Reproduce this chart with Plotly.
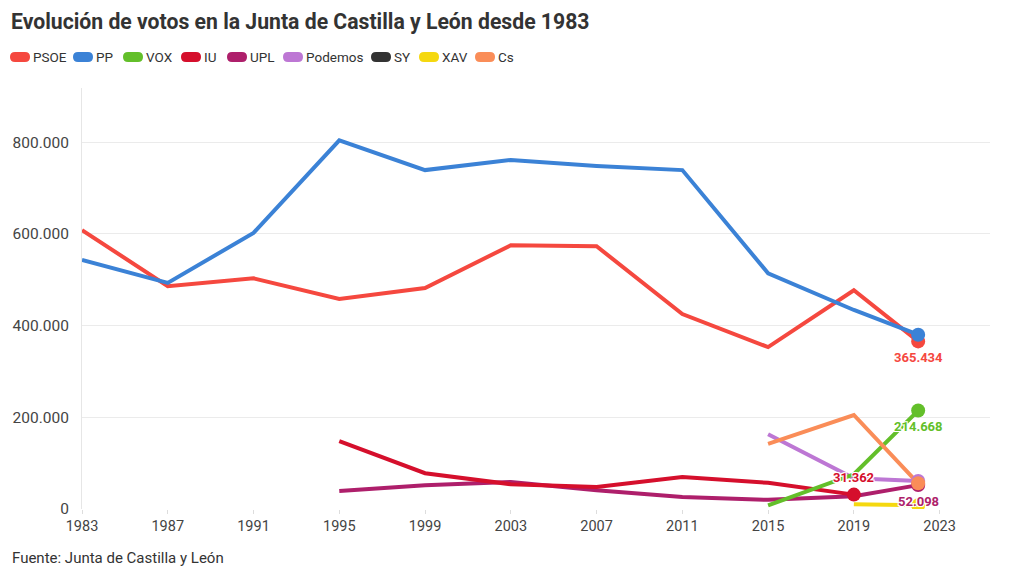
import plotly.graph_objects as go

years = [1983, 1987, 1991, 1995, 1999, 2003, 2007, 2011, 2015, 2019, 2022]

psoe    = [608000, 486000, 503000, 458000, 482000, 575000, 573000, 425000, 353000, 477000, 365434]
pp      = [543000, 493000, 602000, 804000, 739000, 761000, 748000, 739000, 514000, 434000, 380000]
vox     = [None, None, None, None, None, None, None, None, 8000, 75700, 214668]
iu      = [None, None, None, 148000, 78000, 54000, 48000, 70000, 57000, 31362, None]
upl     = [None, None, None, 39000, 52000, 59000, 41000, 26000, 20000, 28000, 52098]
podemos = [None, None, None, None, None, None, None, None, 163000, 67000, 61000]
sy      = [None, None, None, None, None, None, None, None, None, None, None]
xav     = [None, None, None, None, None, None, None, None, None, 10500, 8000]
cs      = [None, None, None, None, None, None, None, None, 142000, 205000, 56000]

party_names = ["PSOE", "PP", "VOX", "IU", "UPL", "Podemos", "SY", "XAV", "Cs"]
party_values = [psoe, pp, vox, iu, upl, podemos, sy, xav, cs]
party_colors = ["#f5483f", "#3b82d6", "#63bf2a", "#d50f2c", "#ae1f6b",
                "#bd77d4", "#333333", "#f5d80f", "#fa8d58"]

labelled = {"PSOE": "below", "VOX": "below", "IU": "above", "UPL": "below"}

# draw order (bottom to top)
draw_order = ["UPL", "IU", "XAV", "SY", "Podemos", "VOX", "Cs", "PSOE", "PP"]

FONT = "Roboto"

fig = go.Figure()

for name in draw_order:
    i = party_names.index(name)
    vals = party_values[i]
    col = party_colors[i]
    fig.add_trace(go.Scatter(x=years, y=vals, mode="lines", name=name,
                             line=dict(color=col, width=4), connectgaps=False,
                             showlegend=False, hoverinfo="skip"))

def fmt(v):
    return f"{v:,.0f}".replace(",", ".")

for name in draw_order:
    i = party_names.index(name)
    vals = party_values[i]
    col = party_colors[i]
    pts = [(x, y) for x, y in zip(years, vals) if y is not None]
    if not pts:
        continue
    lx, ly = pts[-1]
    fig.add_trace(go.Scatter(x=[lx], y=[ly], mode="markers", showlegend=False,
                             marker=dict(color=col, size=14, line=dict(width=0)),
                             hoverinfo="skip"))

halo = "-1px -1px 0 #fff, 1px -1px 0 #fff, -1px 1px 0 #fff, 1px 1px 0 #fff, 0 0 2px #fff"
for name, pos in labelled.items():
    i = party_names.index(name)
    vals = party_values[i]
    col = party_colors[i]
    pts = [(x, y) for x, y in zip(years, vals) if y is not None]
    lx, ly = pts[-1]
    fig.add_annotation(x=lx, y=ly, text=f"<b>{fmt(ly)}</b>", showarrow=False,
                       yshift=(-16 if pos == "below" else 17),
                       font=dict(family=FONT, size=13, color=col, shadow=halo))

# Manual legend
L, R, T, B = 82, 30, 88, 69
W, H = 1020, 578
pw, ph = W - L - R, H - T - B

def px2paper(x, y):
    return (x - L) / pw, (H - B - y) / ph

legend_x = [10, 73, 123, 181, 227, 283, 371, 419, 475]
legend_y = 57
for name, col, lxp in zip(party_names, party_colors, legend_x):
    ax, ay = px2paper(lxp, legend_y)
    path = "M5,-5 L15,-5 Q20,-5 20,0 Q20,5 15,5 L5,5 Q0,5 0,0 Q0,-5 5,-5 Z"
    fig.add_shape(type="path", xref="paper", yref="paper", xsizemode="pixel",
                  ysizemode="pixel", xanchor=ax, yanchor=ay, path=path,
                  fillcolor=col, line=dict(width=0))
    tx, ty = px2paper(lxp + 21, legend_y)
    fig.add_annotation(xref="paper", yref="paper", x=tx, y=ty, text=name,
                       showarrow=False, xanchor="left", yanchor="middle",
                       font=dict(family=FONT, size=13.5, color="#333333"))

fig.add_annotation(xref="paper", yref="paper", x=px2paper(9, 22)[0], y=px2paper(9, 22)[1],
                   text="<b>Evolución de votos en la Junta de Castilla y León desde 1983</b>",
                   showarrow=False, xanchor="left", yanchor="middle",
                   font=dict(family=FONT, size=21.2, color="#333333"))
fig.add_annotation(xref="paper", yref="paper", x=px2paper(10, 558)[0], y=px2paper(10, 558)[1],
                   text="Fuente: Junta de Castilla y León",
                   showarrow=False, xanchor="left", yanchor="middle",
                   font=dict(family=FONT, size=15, color="#333333"))

fig.update_layout(
    width=W, height=H,
    margin=dict(l=L, r=R, t=T, b=B),
    plot_bgcolor="white", paper_bgcolor="white",
    separators=",.",
    showlegend=False,
    xaxis=dict(range=[1983, 2025.35], tickmode="array",
               tickvals=list(range(1983, 2024, 4)),
               ticktext=[str(y) for y in range(1983, 2024, 4)],
               showgrid=False, zeroline=False, showline=False,
               ticks="outside", ticklen=4, tickcolor="#dddddd",
               tickfont=dict(family=FONT, size=14.5, color="#444444")),
    yaxis=dict(range=[0, 918000], tickmode="array",
               tickvals=[0, 200000, 400000, 600000, 800000],
               tickformat=",d", showgrid=True, gridcolor="#ebebeb", gridwidth=1,
               zeroline=False, showline=True, linecolor="#e6e6e6", linewidth=1,
               ticks="", ticklabelstandoff=9,
               tickfont=dict(family=FONT, size=15.5, color="#444444")),
)

fig.write_html("out.html")
